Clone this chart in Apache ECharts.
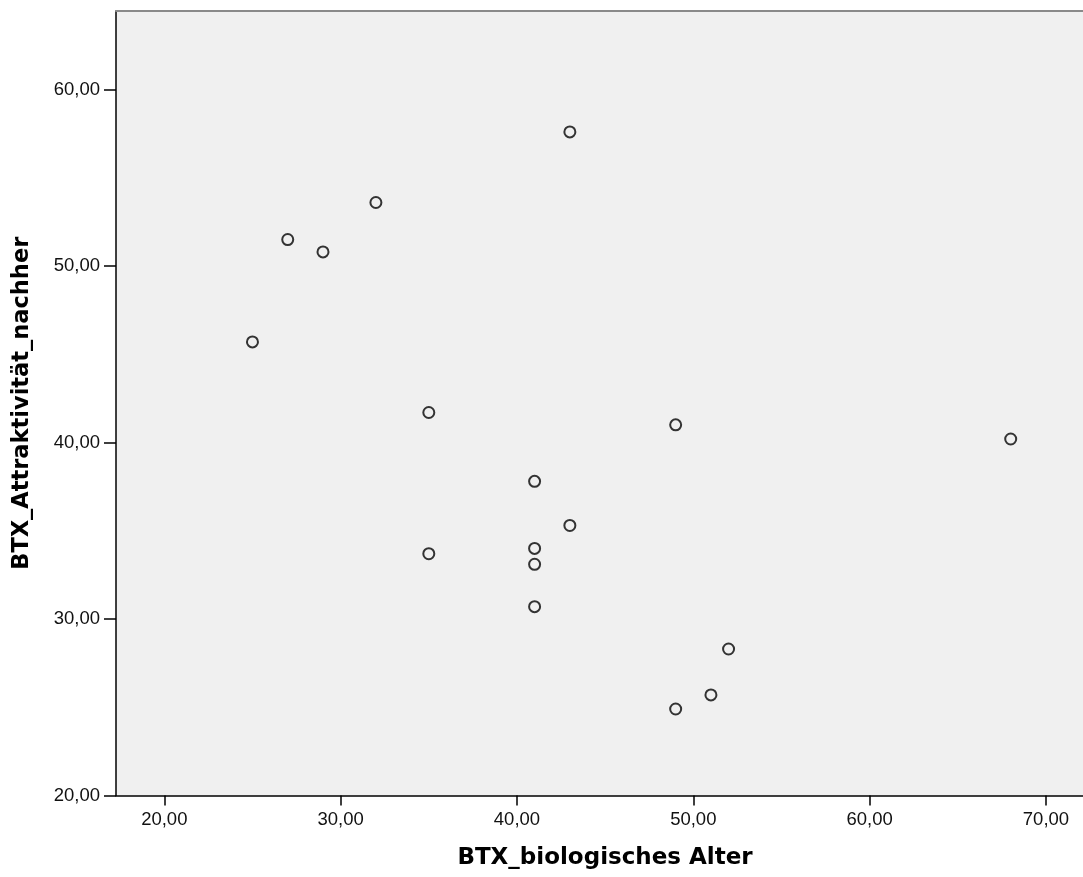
<!DOCTYPE html>
<html>
<head>
<meta charset="utf-8">
<script src="https://cdn.jsdelivr.net/npm/echarts@6/dist/echarts.min.js"></script>
<style>
html,body{margin:0;padding:0;background:#fff;}
#chart{width:1083px;height:877px;}
</style>
</head>
<body>
<div id="chart"></div>
<script>
// Data
const ageValues = [25, 27, 29, 32, 35, 35, 41, 41, 41, 41, 43, 43, 49, 49, 51, 52, 68];
const attractValues = [45.7, 51.5, 50.8, 53.6, 41.7, 33.7, 37.8, 34.0, 33.1, 30.7, 57.6, 35.3, 41.0, 24.9, 25.7, 28.3, 40.2];
const xTickValues = [20, 30, 40, 50, 60, 70];
const yTickValues = [20, 30, 40, 50, 60];
const xTitle = 'BTX_biologisches Alter';
const yTitle = 'BTX_Attraktivität_nachher';

const points = ageValues.map((v, i) => [v, attractValues[i]]);
const fmt = v => Number(v).toFixed(2).replace('.', ',');

const chart = echarts.init(document.getElementById('chart'), null, {renderer: 'canvas'});
chart.setOption({
  backgroundColor: '#ffffff',
  animation: false,
  grid: {
    left: 116, top: 11, right: 0, bottom: 81.5,
    show: true, backgroundColor: '#f0f0f0', borderWidth: 0
  },
  xAxis: [{
    type: 'value',
    min: 17.261, max: 72.1,
    position: 'bottom',
    name: xTitle,
    nameLocation: 'middle',
    nameGap: 51,
    nameTextStyle: {fontFamily: 'DejaVu Sans', fontWeight: 'bold', fontSize: 23, color: '#000', padding: [0, 0, 0, 11]},
    axisLine: {show: true, onZero: false, lineStyle: {color: '#000', width: 1.5}},
    axisTick: {show: true, length: 10, customValues: xTickValues, lineStyle: {color: '#000', width: 1.5}},
    axisLabel: {customValues: xTickValues, margin: 15, formatter: fmt,
      fontFamily: 'Liberation Sans', fontSize: 18.5, color: '#111'},
    splitLine: {show: false}
  }, {
    type: 'value',
    min: 17.261, max: 72.1,
    position: 'top',
    axisLine: {show: true, onZero: false, lineStyle: {color: '#8a8a8a', width: 2}},
    axisTick: {show: false},
    axisLabel: {show: false},
    splitLine: {show: false}
  }],
  yAxis: {
    type: 'value',
    min: 20, max: 64.45,
    name: yTitle,
    nameLocation: 'middle',
    nameGap: 82,
    nameRotate: 90,
    nameTextStyle: {fontFamily: 'DejaVu Sans', fontWeight: 'bold', fontSize: 22.5, color: '#000'},
    axisLine: {show: true, onZero: false, lineStyle: {color: '#000', width: 1.5}},
    axisTick: {show: true, length: 12, customValues: yTickValues, lineStyle: {color: '#000', width: 1.5}},
    axisLabel: {customValues: yTickValues, margin: 16, formatter: fmt,
      fontFamily: 'Liberation Sans', fontSize: 18.5, color: '#111'},
    splitLine: {show: false}
  },
  series: [{
    type: 'scatter',
    data: points,
    symbol: 'circle',
    symbolSize: 11,
    itemStyle: {color: 'rgba(0,0,0,0)', borderColor: '#333', borderWidth: 2, opacity: 1}
  }]
});
</script>
</body>
</html>
